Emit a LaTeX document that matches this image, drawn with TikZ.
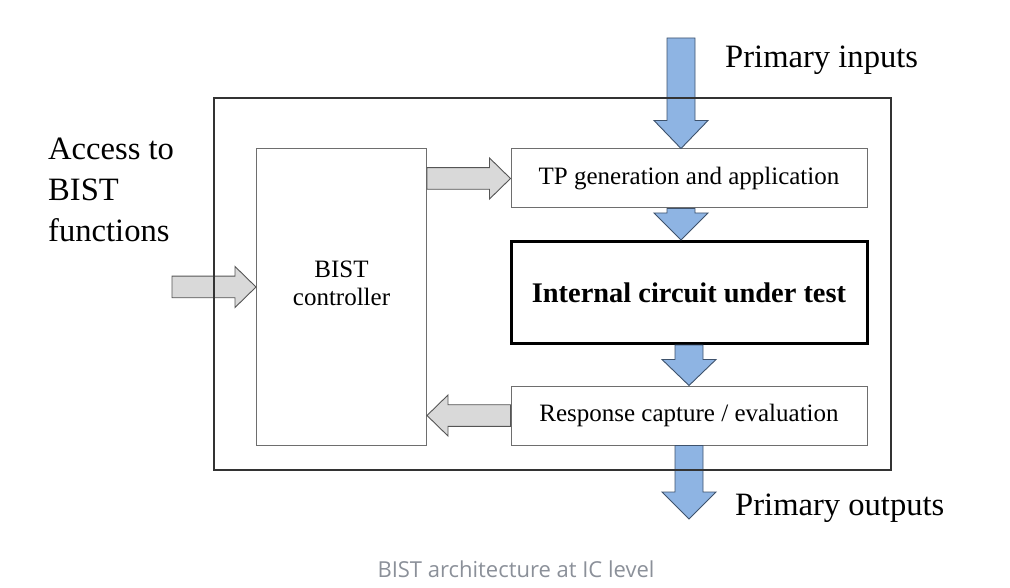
\documentclass[tikz,border=0pt]{standalone}
\usepackage{fontspec}
\setmainfont{Liberation Serif}
\newfontfamily\capfont{Open Sans}
\usetikzlibrary{calc, positioning}

\definecolor{arrowblue}{RGB}{142,180,227}
\definecolor{blueedge}{RGB}{62,82,108}
\definecolor{arrowgray}{RGB}{217,217,217}
\definecolor{grayedge}{RGB}{85,85,85}
\definecolor{boxedge}{RGB}{110,110,110}
\definecolor{captiongray}{RGB}{139,144,153}

% block arrow: style, tail, tip, shaft half width, head half width, head length
\newcommand{\blockarrow}[6]{%
  \coordinate (ba) at ($(#3)!#6!(#2)$);
  \draw[#1] ($(#2)!#4!90:(#3)$) -- ($(ba)!#4!-90:(#2)$) -- ($(ba)!#5!-90:(#2)$) -- (#3)
    -- ($(ba)!#5!90:(#2)$) -- ($(ba)!#4!90:(#2)$) -- ($(#2)!#4!-90:(#3)$) -- cycle;
}

\begin{document}
\begin{tikzpicture}[x=1pt, y=-1pt,
    unit/.style={draw=boxedge, line width=1pt, rectangle, inner sep=0pt, minimum width=356pt},
    unittext/.style={font=\fontsize{25}{28}\selectfont, align=center},
    bigtext/.style={font=\fontsize{32.6}{41}\selectfont, inner sep=0pt},
    bluearrow/.style={fill=arrowblue, draw=blueedge, line width=0.9pt, line join=miter},
    grayarrow/.style={fill=arrowgray, draw=grayedge, line width=0.9pt, line join=miter}]
    \useasboundingbox (0,0) rectangle (1010,588);

    % blocks
    \node[unit, minimum width=170pt, minimum height=296pt] (ctrl) at (341.5,297) {};
    \node[unittext] (ctrltext) at (341.5,283) {BIST\\controller};
    \node[unit, unittext, minimum height=59pt] (tp) at (689,178.5) {TP generation and application};
    \node[unit, unittext, draw=black, line width=3pt, minimum height=102pt,
          font=\fontsize{28.4}{32}\selectfont\bfseries] (ic) at (689,292.5) {Internal circuit under test};
    \node[unit, unittext, minimum height=59pt] (rc) at (689,415.5) {Response capture / evaluation};

    % outside labels
    \node[bigtext, anchor=base west] (pinlabel) at (725,68) {Primary inputs};
    \node[bigtext, anchor=base west] (poutlabel) at (735,515) {Primary outputs};
    \node[bigtext, anchor=west, align=left] (access) at (48,190) {Access to\\BIST\\functions};

    % arrow ends
    \coordinate (ain) at (172,287);
    \coordinate (ain-end) at (ctrl.west |- ain);
    \coordinate (cg) at (ctrl.east |- tp.west);
    \coordinate (rg) at (ctrl.east |- rc.west);
    \coordinate (pin) at (681,38);
    \coordinate (pin-end) at (pin |- tp.north);
    \coordinate (tp-out) at (pin |- tp.south);
    \coordinate (ic-in) at (pin |- ic.north);
    \coordinate (pout) at (689,519);

    % gray control arrows
    \blockarrow{grayarrow}{ain}{ain-end}{10.8pt}{20.5pt}{21pt}
    \blockarrow{grayarrow}{cg}{tp.west}{10.8pt}{20.5pt}{21pt}
    \blockarrow{grayarrow}{rc.west}{rg}{10.8pt}{20.5pt}{21pt}

    % blue data arrows
    \blockarrow{bluearrow}{pin}{pin-end}{14pt}{27pt}{28pt}
    \blockarrow{bluearrow}{tp-out}{ic-in}{14pt}{27pt}{27pt}
    \blockarrow{bluearrow}{ic.south}{rc.north}{14pt}{27pt}{26pt}
    \blockarrow{bluearrow}{rc.south}{pout}{14pt}{27pt}{27pt}

    % chip boundary
    \node[draw=black!80, line width=1.2pt, inner sep=0pt, minimum width=677pt, minimum height=372pt] (chip) at (552.5,284) {};

    \node[font=\capfont\fontsize{22}{26}\selectfont, text=captiongray] (caption) at (516,569) {BIST architecture at IC level};
\end{tikzpicture}
\end{document}
